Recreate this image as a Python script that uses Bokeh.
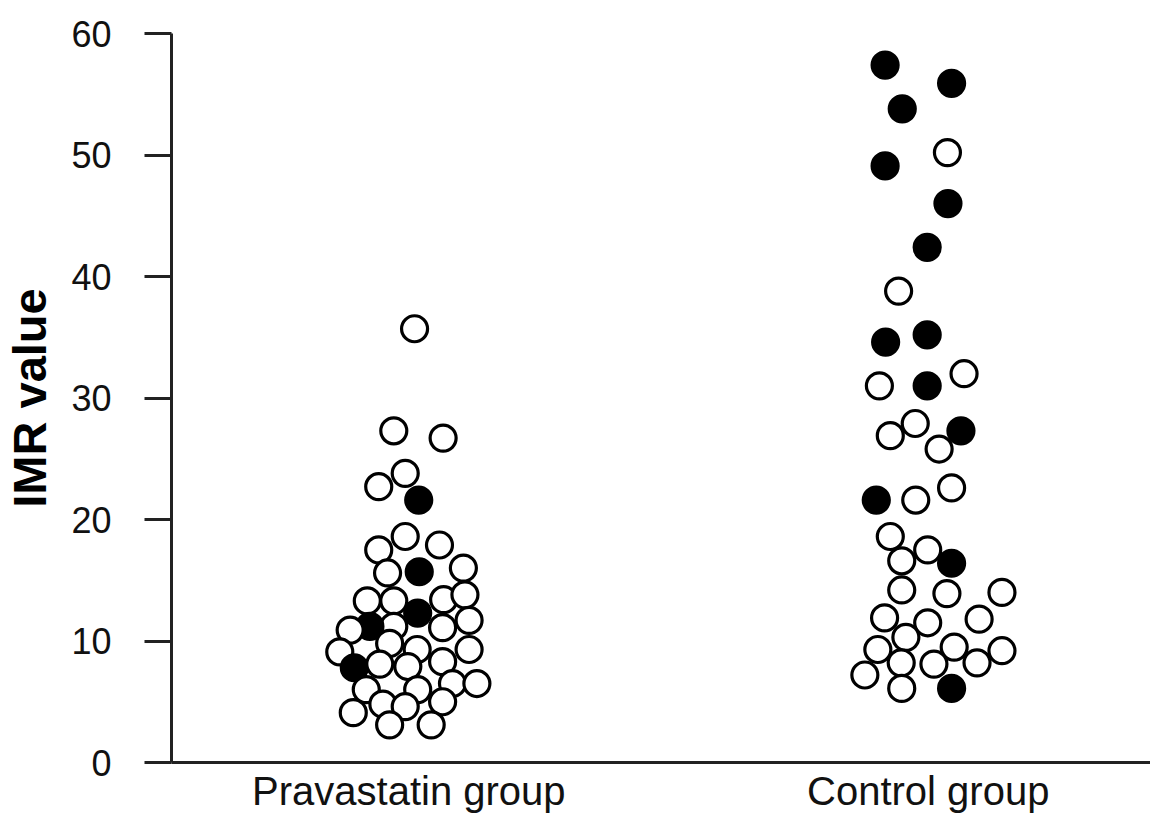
from bokeh.plotting import figure
from bokeh.models import ColumnDataSource, FixedTicker, Range1d
from bokeh.embed import file_html
from bokeh.resources import INLINE

# ---- data ----
groups = ["Pravastatin group", "Control group"]
y_ticks = [0, 10, 20, 30, 40, 50, 60]

prava_imr = [35.7, 27.3, 26.7, 23.8, 22.7, 21.6, 18.6, 17.5, 17.9, 15.6,
             15.7, 16.0, 13.3, 13.3, 12.3, 13.4, 13.8, 11.7, 11.1, 11.2,
             11.2, 10.9, 9.1, 9.8, 9.3, 9.3, 7.8, 8.1, 7.9, 8.3,
             6.5, 6.5, 6.0, 6.0, 4.8, 4.6, 5.0, 4.1, 3.1, 3.1]
prava_jitter = [0.011, -0.029, 0.066, -0.007, -0.058, 0.019, -0.007, -0.058, 0.059, -0.041,
                0.020, 0.105, -0.080, -0.029, 0.017, 0.067, 0.108, 0.116, 0.065, -0.029,
                -0.075, -0.113, -0.133, -0.037, 0.016, 0.116, -0.105, -0.056, -0.002, 0.065,
                0.084, 0.131, -0.082, 0.017, -0.050, -0.007, 0.065, -0.107, -0.037, 0.043]
prava_filled = [0, 0, 0, 0, 0, 1, 0, 0, 0, 0,
                1, 0, 0, 0, 1, 0, 0, 0, 0, 0,
                1, 0, 0, 0, 0, 0, 1, 0, 0, 0,
                0, 0, 0, 0, 0, 0, 0, 0, 0, 0]

control_imr = [57.4, 55.9, 53.8, 50.2, 49.1, 46.0, 42.4, 38.8, 34.6, 35.2,
               31.0, 31.0, 32.0, 26.9, 27.9, 27.3, 25.8, 21.6, 21.6, 22.6,
               18.6, 17.5, 16.6, 16.4, 14.2, 13.9, 14.0, 11.9, 11.5, 11.8,
               10.3, 9.3, 9.5, 9.2, 8.2, 8.1, 8.2, 7.2, 6.1, 6.1]
control_jitter = [-0.083, 0.045, -0.050, 0.037, -0.083, 0.038, -0.002, -0.057, -0.082, -0.002,
                  -0.094, -0.002, 0.069, -0.073, -0.025, 0.063, 0.021, -0.100, -0.024, 0.045,
                  -0.073, -0.001, -0.051, 0.045, -0.051, 0.036, 0.142, -0.084, -0.001, 0.098,
                  -0.043, -0.097, 0.050, 0.142, -0.052, 0.011, 0.094, -0.122, -0.051, 0.045]
control_filled = [1, 1, 1, 0, 1, 1, 1, 0, 1, 1,
                  0, 1, 0, 0, 0, 1, 0, 1, 0, 0,
                  0, 0, 0, 1, 0, 0, 0, 0, 0, 0,
                  0, 0, 0, 0, 0, 0, 0, 0, 0, 1]

# ---- build table ----
xs, ys, fills = [], [], []
for gi, (imr, jit, fil) in enumerate([(prava_imr, prava_jitter, prava_filled),
                                      (control_imr, control_jitter, control_filled)], start=1):
    for v, j, f in zip(imr, jit, fil):
        xs.append(gi + j)
        ys.append(v)
        fills.append("black" if f else "white")
src = ColumnDataSource(dict(x=xs, y=ys, fill=fills))

p = figure(width=1150, height=815, output_backend="svg", toolbar_location=None,
           x_range=Range1d(0.543, 2.428), y_range=Range1d(0, 60),
           min_border_left=164, min_border_top=33, min_border_bottom=40, min_border_right=0)
p.outline_line_color = None
p.xgrid.grid_line_color = None
p.ygrid.grid_line_color = None
p.background_fill_color = "white"
p.border_fill_color = "white"

p.scatter("x", "y", source=src, size=26, fill_color="fill", line_color="black", line_width=3.2)

# y axis
ya = p.yaxis[0]
ya.ticker = FixedTicker(ticks=y_ticks)
ya.minor_tick_line_color = None
ya.major_tick_in = 0
ya.major_tick_out = 27
ya.major_tick_line_width = 3
ya.major_tick_line_color = "#222222"
ya.axis_line_width = 3
ya.axis_line_color = "#222222"
ya.major_label_text_font = "Liberation Sans"
ya.major_label_text_font_size = "36px"
ya.major_label_text_color = "#111111"
ya.major_label_standoff = 33
ya.axis_label = "IMR value"
ya.axis_label_text_font = "Liberation Sans"
ya.axis_label_text_font_style = "bold"
ya.axis_label_text_font_size = "47px"
ya.axis_label_text_color = "#000000"
ya.axis_label_standoff = 12

# x axis
xa = p.xaxis[0]
xa.ticker = FixedTicker(ticks=[1, 2])
xa.major_label_overrides = {1: groups[0], 2: groups[1]}
xa.minor_tick_line_color = None
xa.major_tick_line_color = None
xa.major_tick_in = 0
xa.major_tick_out = 0
xa.axis_line_width = 3
xa.axis_line_color = "#222222"
xa.major_label_text_font = "Liberation Sans"
xa.major_label_text_font_size = "40px"
xa.major_label_text_color = "#111111"
xa.major_label_standoff = 6

open("out.html", "w").write(file_html(p, INLINE))
